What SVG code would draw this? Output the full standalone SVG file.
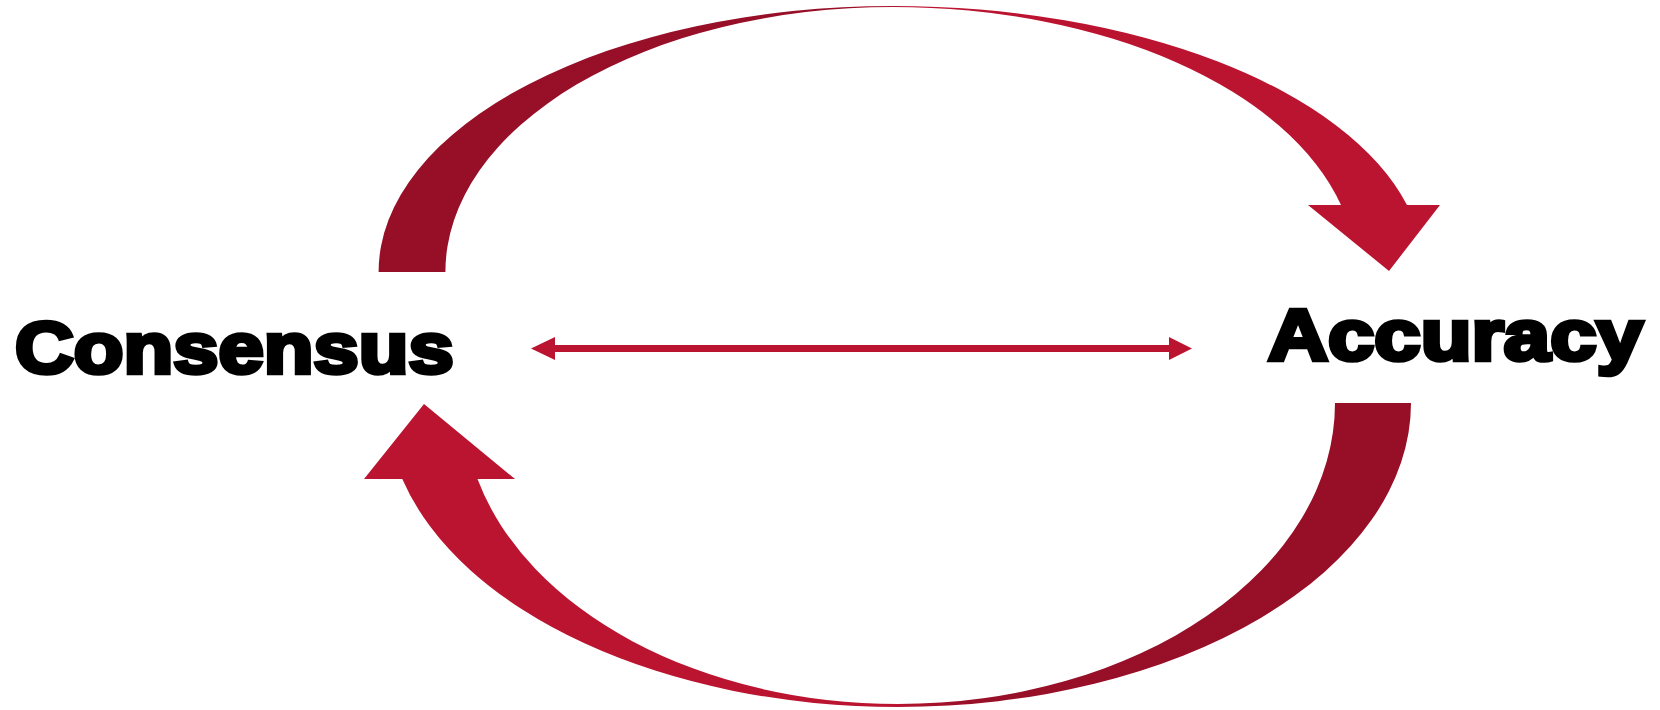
<svg xmlns="http://www.w3.org/2000/svg" width="1660" height="710" viewBox="0 0 1660 710">
  <style>
    .label { font-family: "Liberation Sans", Arial, sans-serif; font-weight: 700; font-size: 73px; fill: #000; stroke: #000; stroke-width: 4.5; stroke-linejoin: miter; stroke-miterlimit: 3; }
    .conn { stroke: #bb1430; stroke-width: 7; fill: none; }
    .head { fill: #bb1430; }
  </style>
  <defs>
    <linearGradient id="gTop" gradientUnits="userSpaceOnUse" x1="379" y1="0" x2="1440" y2="0">
      <stop offset="0" stop-color="#960f27"/>
      <stop offset="0.44" stop-color="#980f28"/>
      <stop offset="0.49" stop-color="#b0132d"/>
      <stop offset="0.5" stop-color="#bb1430"/>
      <stop offset="1" stop-color="#bb1430"/>
    </linearGradient>
    <linearGradient id="gBot" gradientUnits="userSpaceOnUse" x1="364" y1="0" x2="1411" y2="0">
      <stop offset="0" stop-color="#bb1430"/>
      <stop offset="0.51" stop-color="#bb1430"/>
      <stop offset="0.52" stop-color="#b0132d"/>
      <stop offset="0.58" stop-color="#980f28"/>
      <stop offset="1" stop-color="#960f27"/>
    </linearGradient>
  </defs>
  <rect width="1660" height="710" fill="#fff"/>

  <g id="consensus">
    <text class="label" transform="translate(15,373) scale(1.115,1)" x="0" y="0">Consensus</text>
  </g>
  <g id="accuracy">
    <text class="label" transform="translate(1268,360) scale(1.14,1)" x="0" y="0">Accuracy</text>
  </g>

  <g id="connectors">
    <path id="arrow-top" fill="url(#gTop)" d="M 378.6 272 A 514.4 266 0 0 1 893 6 A 531 266 0 0 1 1407 205 L 1440 205 L 1389 271 L 1308 205 L 1341 205 A 463 265 0 0 0 893 7 A 447.6 265 0 0 0 445.4 272 Z"/>
    <path id="arrow-bottom" fill="url(#gBot)" d="M 1411 403 A 513 304 0 0 1 898 707 A 512 304 0 0 1 402.3 479 L 364 479 L 424 404 L 515 479 L 477.5 479 A 434.6 301 0 0 0 898 704 A 437 301 0 0 0 1335 403 Z"/>
    <g id="arrow-both">
      <line class="conn" x1="554" y1="348.5" x2="1170" y2="348.5"/>
      <polygon class="head" points="531,348.5 555,337 555,360"/>
      <polygon class="head" points="1192,348.5 1169,337 1169,360"/>
    </g>
  </g>
</svg>
